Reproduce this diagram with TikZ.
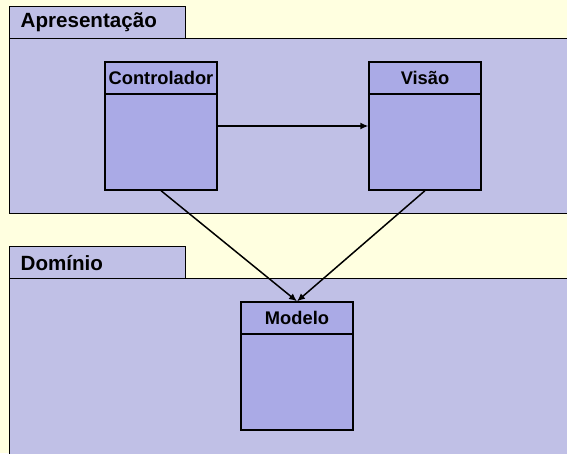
\documentclass[tikz,border=0pt]{standalone}
\usepackage{fontspec}
\setmainfont{Liberation Sans}
\usetikzlibrary{arrows.meta}
\definecolor{bgyellow}{RGB}{255,255,224}
\definecolor{pkgfill}{RGB}{192,192,230}
\definecolor{clsfill}{RGB}{170,170,230}
\tikzset{
  pkgtab/.style={draw, fill=pkgfill, line width=1.3pt, anchor=north west, minimum height=32pt, inner xsep=11pt, inner ysep=0pt, text width=154pt, align=left, font=\fontsize{20.6}{24}\selectfont\bfseries},
  pkgbody/.style={draw, fill=pkgfill, line width=1.3pt, anchor=north west, minimum width=620pt, inner sep=0pt},
  clsbox/.style={draw, fill=clsfill, line width=1.3pt, minimum width=112pt, minimum height=128pt, inner sep=0pt},
  clstitle/.style={draw, line width=1.3pt, anchor=north, minimum width=112pt, minimum height=32pt, inner sep=0pt, font=\fontsize{18.3}{22}\selectfont\bfseries},
  dep/.style={draw, line width=1.5pt, -{Latex[length=8pt,width=7pt]}}
}
\begin{document}
\begin{tikzpicture}[x=1pt,y=-1pt]
\useasboundingbox (0,0) rectangle (567,453);
\fill[bgyellow] (0,0) rectangle (567,453);
\clip (0,0) rectangle (567,453);

% packages
\node[pkgbody, minimum height=175pt] (ap) at (9,38) {};
\node[pkgtab] (apt) at (9,6) {Apresentação};
\node[pkgbody, minimum height=200pt] (dom) at (9,278) {};
\node[pkgtab] (domt) at (9,246) {Domínio};

% classes
\node[clsbox] (ctrl) at (161,126) {};
\node[clstitle] (ctrlt) at (ctrl.north) {Controlador};
\node[clsbox] (vis) at (425,126) {};
\node[clstitle] (vist) at (vis.north) {Visão};
\node[clsbox] (mod) at (297,366) {};
\node[clstitle] (modt) at (mod.north) {Modelo};

\path[dep] (ctrl) -- (vis);
\path[dep] (ctrl.south) -- (mod.north);
\path[dep] (vis.south) -- (mod.north);
\end{tikzpicture}
\end{document}
